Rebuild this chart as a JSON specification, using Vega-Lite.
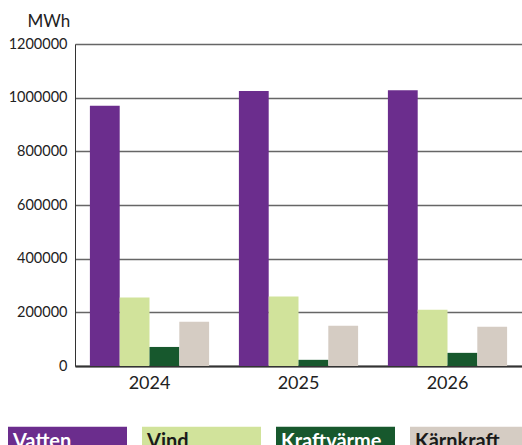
{
  "$schema": "https://vega.github.io/schema/vega-lite/v6.json",
  "autosize": {"type": "none"},
  "padding": {"left": 75, "top": 44, "right": 0, "bottom": 79},
  "width": 447,
  "height": 322,
  "background": "white",
  "data": {
    "values": [
      {"year": "2024", "source": "Vatten", "mwh": 970000},
      {"year": "2024", "source": "Vind", "mwh": 255000},
      {"year": "2024", "source": "Kraftvärme", "mwh": 71000},
      {"year": "2024", "source": "Kärnkraft", "mwh": 165000},
      {"year": "2025", "source": "Vatten", "mwh": 1025000},
      {"year": "2025", "source": "Vind", "mwh": 259000},
      {"year": "2025", "source": "Kraftvärme", "mwh": 23000},
      {"year": "2025", "source": "Kärnkraft", "mwh": 150000},
      {"year": "2026", "source": "Vatten", "mwh": 1028000},
      {"year": "2026", "source": "Vind", "mwh": 210000},
      {"year": "2026", "source": "Kraftvärme", "mwh": 49000},
      {"year": "2026", "source": "Kärnkraft", "mwh": 146000}
    ]
  },
  "mark": {"type": "bar"},
  "encoding": {
    "x": {
      "field": "year",
      "type": "nominal",
      "scale": {"paddingInner": 0.2, "paddingOuter": 0.1},
      "axis": {
        "title": null,
        "labelAngle": 0,
        "labelFont": "Lato",
        "labelFontSize": 18,
        "labelColor": "#222222",
        "labelPadding": 8,
        "ticks": false,
        "domainColor": "#333333",
        "domainWidth": 2
      }
    },
    "xOffset": {
      "field": "source",
      "type": "nominal",
      "sort": ["Vatten", "Vind", "Kraftvärme", "Kärnkraft"],
      "scale": {"paddingInner": 0, "paddingOuter": 0}
    },
    "y": {
      "field": "mwh",
      "type": "quantitative",
      "scale": {"domain": [0, 1200000], "nice": false},
      "axis": {
        "values": [0, 200000, 400000, 600000, 800000, 1000000, 1200000],
        "format": "d",
        "title": "MWh",
        "titleAngle": 0,
        "titleAlign": "left",
        "titleBaseline": "alphabetic",
        "titleX": -48,
        "titleY": -18,
        "titleFont": "Lato",
        "titleFontSize": 17,
        "titleFontWeight": "normal",
        "titleColor": "#222222",
        "labelFont": "Lato",
        "labelFontSize": 14.5,
        "labelColor": "#222222",
        "labelPadding": 8,
        "ticks": false,
        "domainColor": "#333333",
        "domainWidth": 1,
        "gridColor": "#666666",
        "gridWidth": 1.5
      }
    },
    "color": {
      "field": "source",
      "type": "nominal",
      "sort": ["Vatten", "Vind", "Kraftvärme", "Kärnkraft"],
      "scale": {
        "domain": ["Vatten", "Vind", "Kraftvärme", "Kärnkraft"],
        "range": ["#6b2d8d", "#d1e39b", "#17582d", "#d5ccc3"]
      },
      "legend": {
        "title": null,
        "orient": "none",
        "direction": "horizontal",
        "columns": 4,
        "legendX": -67,
        "legendY": 335,
        "padding": 0,
        "columnPadding": 15,
        "symbolType": "M-1,-0.2H1V0.2H-1Z",
        "symbolSize": 14161,
        "symbolStrokeWidth": 0,
        "symbolOpacity": 1,
        "labelOffset": -114,
        "labelFont": "Lato",
        "labelFontSize": 20,
        "labelFontWeight": "bold",
        "labelLimit": 0,
        "gridAlign": "all",
        "encode": {
          "symbols": {
            "update": {
              "fill": {"signal": "datum.value === 'Vatten' ? '#6e2184' : datum.value === 'Vind' ? '#c8e66e' : datum.value === 'Kraftvärme' ? '#1e5a31' : '#c8c1ba'"},
              "stroke": {"value": "transparent"}
            }
          },
          "labels": {
            "update": {
              "fill": {"signal": "(datum.value === 'Vatten' || datum.value === 'Kraftvärme') ? '#ffffff' : '#1a1a1a'"},
              "dy": {"value": 3}
            }
          }
        }
      }
    }
  }
}
